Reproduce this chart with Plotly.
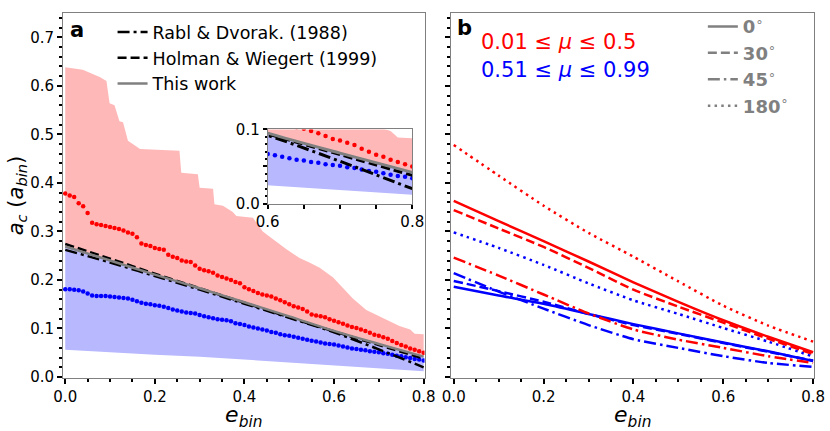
import plotly.graph_objects as go

# ---- panel a data ----
e_dots = [round(0.01 * i, 2) for i in range(81)]

red_mean = [0.378, 0.374, 0.371, 0.358, 0.352, 0.338, 0.318, 0.315, 0.313, 0.311,
            0.309, 0.307, 0.305, 0.302, 0.298, 0.295, 0.288, 0.275, 0.272, 0.270,
            0.266, 0.264, 0.262, 0.252, 0.248, 0.245, 0.240, 0.238, 0.237, 0.230,
            0.223, 0.220, 0.218, 0.215, 0.209, 0.206, 0.203, 0.200, 0.196, 0.193,
            0.185, 0.181, 0.177, 0.173, 0.170, 0.168, 0.166, 0.162, 0.158, 0.154,
            0.150, 0.146, 0.143, 0.140, 0.135, 0.129, 0.127, 0.125, 0.123, 0.119,
            0.116, 0.113, 0.110, 0.106, 0.103, 0.101, 0.098, 0.095, 0.091, 0.087,
            0.085, 0.082, 0.079, 0.074, 0.070, 0.066, 0.063, 0.059, 0.056, 0.053,
            0.050]

blue_mean = [0.181, 0.181, 0.180, 0.179, 0.176, 0.172, 0.168, 0.167, 0.167, 0.167,
             0.166, 0.165, 0.164, 0.163, 0.162, 0.159, 0.156, 0.153, 0.151, 0.150,
             0.148, 0.147, 0.145, 0.142, 0.139, 0.137, 0.135, 0.133, 0.132, 0.131,
             0.128, 0.125, 0.123, 0.121, 0.119, 0.118, 0.117, 0.115, 0.111, 0.109,
             0.107, 0.104, 0.102, 0.100, 0.098, 0.096, 0.093, 0.091, 0.088, 0.086,
             0.085, 0.083, 0.081, 0.079, 0.077, 0.075, 0.073, 0.071, 0.069, 0.068,
             0.067, 0.065, 0.063, 0.061, 0.059, 0.058, 0.056, 0.055, 0.053, 0.052,
             0.051, 0.049, 0.048, 0.046, 0.044, 0.043, 0.041, 0.039, 0.037, 0.036,
             0.034]

red_env_e = [0.0, 0.039, 0.077, 0.092, 0.099, 0.110, 0.121, 0.129, 0.140, 0.167,
             0.255, 0.259, 0.296, 0.300, 0.330, 0.333, 0.352, 0.374, 0.382, 0.419,
             0.441, 0.449, 0.493, 0.523, 0.545, 0.568, 0.598, 0.642, 0.672, 0.709,
             0.746, 0.770, 0.780, 0.800]
red_env_hi = [0.638, 0.633, 0.618, 0.610, 0.564, 0.560, 0.527, 0.525, 0.487, 0.470,
              0.466, 0.421, 0.418, 0.390, 0.388, 0.356, 0.353, 0.340, 0.332, 0.328,
              0.300, 0.294, 0.264, 0.245, 0.236, 0.225, 0.205, 0.162, 0.138, 0.121,
              0.105, 0.098, 0.089, 0.088]

e_fit = [0.0, 0.1, 0.2, 0.3, 0.4, 0.5, 0.6, 0.7, 0.8]
rabl_dvorak = [0.262, 0.236, 0.208, 0.180, 0.151, 0.122, 0.092, 0.057, 0.020]
holman_wiegert = [0.274, 0.244, 0.213, 0.183, 0.153, 0.123, 0.094, 0.066, 0.038]
this_work = [0.269, 0.240, 0.211, 0.183, 0.154, 0.125, 0.095, 0.068, 0.042]
blue_env_lo = [0.056, 0.051, 0.046, 0.042, 0.037, 0.031, 0.025, 0.018, 0.012]

# ---- panel b data ----
e_b = [0.0, 0.1, 0.2, 0.3, 0.4, 0.5, 0.6, 0.7, 0.8]
red_curves = {
    "0": [0.363, 0.321, 0.280, 0.238, 0.195, 0.155, 0.117, 0.083, 0.051],
    "30": [0.344, 0.306, 0.268, 0.225, 0.180, 0.145, 0.112, 0.079, 0.047],
    "45": [0.246, 0.209, 0.170, 0.131, 0.098, 0.077, 0.060, 0.043, 0.029],
    "180": [0.478, 0.415, 0.353, 0.297, 0.248, 0.197, 0.147, 0.106, 0.073],
}
blue_curves = {
    "0": [0.186, 0.168, 0.151, 0.130, 0.109, 0.090, 0.071, 0.053, 0.033],
    "30": [0.198, 0.177, 0.155, 0.130, 0.107, 0.089, 0.070, 0.052, 0.034],
    "45": [0.214, 0.176, 0.141, 0.107, 0.078, 0.060, 0.043, 0.029, 0.021],
    "180": [0.298, 0.266, 0.231, 0.193, 0.158, 0.130, 0.101, 0.073, 0.042],
}
angle_dash = {"0": "solid", "30": "9px,4px", "45": "12px,4px,2.5px,4px", "180": "2.5px,4.2px"}

FONT = "DejaVu Sans"
PINK = "rgb(255,184,184)"
LAVENDER = "rgb(184,184,255)"

fig = go.Figure()


def add_panel_a(xa, ya, dot_size, lw):
    # shaded ranges
    fig.add_trace(go.Scatter(
        x=red_env_e + e_fit[::-1], y=red_env_hi + this_work[::-1],
        fill="toself", fillcolor=PINK, line=dict(width=0), mode="lines",
        hoverinfo="skip", showlegend=False, xaxis=xa, yaxis=ya))
    fig.add_trace(go.Scatter(
        x=e_fit + e_fit[::-1], y=this_work + blue_env_lo[::-1],
        fill="toself", fillcolor=LAVENDER, line=dict(width=0), mode="lines",
        hoverinfo="skip", showlegend=False, xaxis=xa, yaxis=ya))
    fig.add_trace(go.Scatter(
        x=e_dots, y=red_mean, mode="markers",
        marker=dict(color="red", size=dot_size), showlegend=False, xaxis=xa, yaxis=ya))
    fig.add_trace(go.Scatter(
        x=e_dots, y=blue_mean, mode="markers",
        marker=dict(color="blue", size=dot_size), showlegend=False, xaxis=xa, yaxis=ya))
    main = xa == "x"
    fig.add_trace(go.Scatter(
        x=e_fit, y=rabl_dvorak, mode="lines", name="Rabl & Dvorak. (1988)",
        line=dict(color="black", width=lw, dash="12px,4px,3px,4px", shape="spline"),
        showlegend=main, xaxis=xa, yaxis=ya))
    fig.add_trace(go.Scatter(
        x=e_fit, y=holman_wiegert, mode="lines", name="Holman & Wiegert (1999)",
        line=dict(color="black", width=lw, dash="9px,4px", shape="spline"),
        showlegend=main, xaxis=xa, yaxis=ya))
    fig.add_trace(go.Scatter(
        x=e_fit, y=this_work, mode="lines", name="This work",
        line=dict(color="gray", width=lw, shape="spline"),
        showlegend=main, xaxis=xa, yaxis=ya))


add_panel_a("x", "y", 4.5, 2.5)
add_panel_a("x3", "y3", 4.5, 3)

# panel b curves
for ang in ["0", "30", "45", "180"]:
    fig.add_trace(go.Scatter(
        x=e_b, y=red_curves[ang], mode="lines",
        line=dict(color="red", width=2.5, dash=angle_dash[ang], shape="spline", smoothing=0.6),
        showlegend=False, xaxis="x2", yaxis="y2"))
    fig.add_trace(go.Scatter(
        x=e_b, y=blue_curves[ang], mode="lines",
        line=dict(color="blue", width=2.5, dash=angle_dash[ang], shape="spline", smoothing=0.6),
        showlegend=False, xaxis="x2", yaxis="y2"))

# grey style key for panel b
for ang in ["0", "30", "45", "180"]:
    fig.add_trace(go.Scatter(
        x=[None], y=[None], mode="lines",
        name="<b>%s</b><sup>∘</sup>" % ang,
        line=dict(color="gray", width=2.5, dash=angle_dash[ang]),
        legend="legend2", xaxis="x2", yaxis="y2"))

tick_common = dict(
    ticks="outside", tickcolor="black", tickwidth=1.5, ticklen=5,
    showline=True, linecolor="gray", linewidth=1, mirror=True,
    showgrid=False, zeroline=False,
    tickfont=dict(family=FONT, size=15, color="black"),
)
minor_x = dict(dtick=0.05, ticks="outside", ticklen=3, tickwidth=1.5, tickcolor="black", showgrid=False)
minor_y = dict(dtick=0.02, ticks="outside", ticklen=3, tickwidth=1.5, tickcolor="black", showgrid=False)
xtitle = dict(text="<i>e</i><sub><i>bin</i></sub>", font=dict(family=FONT, size=22), standoff=6)

fig.update_layout(
    width=830, height=431,
    margin=dict(l=63, r=16, t=4, b=53),
    paper_bgcolor="white", plot_bgcolor="white",
    font=dict(family=FONT, color="black"),
    xaxis=dict(domain=[0, 0.4814], range=[-0.005, 0.802], dtick=0.2, tick0=0,
               tickformat=".1f", minor=minor_x, title=xtitle, anchor="y", **tick_common),
    yaxis=dict(domain=[0, 1], range=[-0.002, 0.75], dtick=0.1, tick0=0,
               tickformat=".1f", minor=minor_y, anchor="x",
               title=dict(text="<i>a</i><sub><i>c</i></sub> (<i>a</i><sub><i>bin</i></sub>)",
                          font=dict(family=FONT, size=21), standoff=0),
               **tick_common),
    xaxis2=dict(domain=[0.5173, 1], range=[-0.005, 0.802], dtick=0.2, tick0=0,
                tickformat=".1f", minor=minor_x, title=xtitle, anchor="y2", **tick_common),
    yaxis2=dict(domain=[0, 1], range=[-0.002, 0.75], dtick=0.1, tick0=0,
                minor=minor_y, anchor="x2", showticklabels=False, **tick_common),
    xaxis3=dict(domain=[0.2726, 0.4651], range=[0.6, 0.8],
                tickvals=[0.6, 0.65, 0.7, 0.75, 0.8], ticktext=["0.6", "", "", "", "0.8"],
                anchor="y3", **{**tick_common, "ticklen": 4}),
    yaxis3=dict(domain=[0.478, 0.681], range=[0, 0.1],
                tickvals=[0, 0.05, 0.1], ticktext=["0.0", "", "0.1"],
                minor=dict(dtick=0.01, ticks="outside", ticklen=2, tickwidth=1.5,
                           tickcolor="black", showgrid=False),
                anchor="x3", **{**tick_common, "ticklen": 4}),
    legend=dict(x=0.066, y=0.997, xanchor="left", yanchor="top",
                bgcolor="rgba(0,0,0,0)", font=dict(family=FONT, size=17.5, color="black")),
    legend2=dict(x=0.852, y=1.013, xanchor="left", yanchor="top",
                 bgcolor="rgba(0,0,0,0)", font=dict(family=FONT, size=18, color="gray")),
    annotations=[
        dict(text="<b>a</b>", x=0.0067, y=0.9545, xref="paper", yref="paper",
             xanchor="left", yanchor="middle", showarrow=False,
             font=dict(family=FONT, size=21, color="black")),
        dict(text="<b>b</b>", x=0.5226, y=0.9586, xref="paper", yref="paper",
             xanchor="left", yanchor="middle", showarrow=False,
             font=dict(family=FONT, size=21, color="black")),
        dict(text="0.01 ≤ <i>μ</i> ≤ 0.5", x=0.554, y=0.9203, xref="paper", yref="paper",
             xanchor="left", yanchor="middle", showarrow=False,
             font=dict(family=FONT, size=21, color="red")),
        dict(text="0.51 ≤ <i>μ</i> ≤ 0.99", x=0.554, y=0.8436, xref="paper", yref="paper",
             xanchor="left", yanchor="middle", showarrow=False,
             font=dict(family=FONT, size=21, color="blue")),
    ],
)

fig.write_html("out.html", config={"displayModeBar": False},
               post_script="document.body.style.margin='0';")
